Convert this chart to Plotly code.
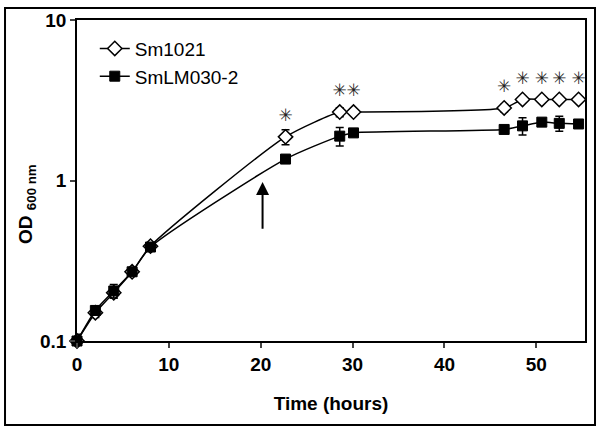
import plotly.graph_objects as go
import math

# ---- data ----
time_h = [0, 2, 4, 6, 8, 22.7, 28.6, 30.1, 46.5, 48.5, 50.6, 52.5, 54.6]
sm1021 = [0.10, 0.15, 0.20, 0.27, 0.39, 1.87, 2.67, 2.67, 2.83, 3.20, 3.20, 3.20, 3.20]
sm1021_err = [0.008, 0.01, 0.015, 0.015, 0.02, 0.2, 0.17, 0.05, 0.15, 0.05, 0.05, 0.05, 0.05]
smlm030 = [0.10, 0.155, 0.205, 0.27, 0.385, 1.36, 1.89, 1.98, 2.08, 2.19, 2.31, 2.27, 2.25]
smlm030_err = [0.01, 0.01, 0.02, 0.015, 0.02, 0.05, 0.25, 0.05, 0.05, 0.27, 0.08, 0.24, 0.1]
star_flags = [0, 0, 0, 0, 0, 1, 1, 1, 1, 1, 1, 1, 1]
series_names = ["Sm1021", "SmLM030-2"]
x_ticks = [0, 10, 20, 30, 40, 50]
y_ticks = [0.1, 1, 10]
y_ticklabels = ["0.1", "1", "10"]
arrow_x = 20.2
arrow_tip = 0.98
arrow_tail = 0.49

FONT = "Liberation Sans, Arial, sans-serif"

fig = go.Figure()
fig.add_trace(go.Scatter(
    x=time_h, y=sm1021, name=series_names[0], mode="lines+markers",
    line=dict(color="black", width=1.5, shape="spline", smoothing=0.6),
    marker=dict(symbol="diamond", size=11, color="white", line=dict(color="black", width=1.5)),
    error_y=dict(type="data", array=sm1021_err, color="black", thickness=1.5, width=4),
    cliponaxis=False,
))
fig.add_trace(go.Scatter(
    x=time_h, y=smlm030, name=series_names[1], mode="lines+markers",
    line=dict(color="black", width=1.5, shape="spline", smoothing=0.6),
    marker=dict(symbol="square", size=10, color="black", line=dict(color="black", width=1)),
    error_y=dict(type="data", array=smlm030_err, color="black", thickness=1.5, width=4),
    cliponaxis=False,
))

# asterisks above significant points
star_x = [t for t, f in zip(time_h, star_flags) if f]
star_y = [v * 1.33 for v, f in zip(sm1021, star_flags) if f]
fig.add_trace(go.Scatter(
    x=star_x, y=star_y, mode="text", text=["\u2733"] * len(star_x),
    textfont=dict(family="DejaVu Sans", size=17, color="#222"),
    textposition="middle center", showlegend=False, cliponaxis=False, hoverinfo="skip",
))

fig.add_annotation(
    x=arrow_x, y=math.log10(arrow_tip), ax=arrow_x, ay=math.log10(arrow_tail),
    xref="x", yref="y", axref="x", ayref="y", text="", showarrow=True,
    arrowhead=2, arrowsize=1.3, arrowwidth=2, arrowcolor="black",
)

# y-axis title
fig.add_annotation(
    x=-0.0984, y=0.427, xref="paper", yref="paper", xanchor="center", yanchor="middle",
    text="<b>OD <sub>600 nm</sub></b>", textangle=-90, showarrow=False,
    font=dict(family=FONT, size=19, color="black"),
)

# outer border
fig.add_shape(type="rect", xref="paper", yref="paper",
              x0=-0.1417, x1=1.0197, y0=-0.2617, y1=1.037,
              line=dict(color="black", width=2))

fig.update_layout(
    width=600, height=434,
    margin=dict(l=77, r=15, t=20, b=93),
    paper_bgcolor="white", plot_bgcolor="white",
    font=dict(family=FONT, size=19, color="black"),
    showlegend=True,
    legend=dict(x=0.035, y=0.97, xanchor="left", yanchor="top",
                bgcolor="rgba(0,0,0,0)", font=dict(size=19), tracegroupgap=0),
)
fig.update_xaxes(
    range=[0, 55.3], tickvals=x_ticks, ticks="outside", ticklen=5, tickwidth=1.5,
    showline=True, linecolor="black", linewidth=1.5, mirror=True, showgrid=False,
    zeroline=False, tickfont=dict(size=19, family=FONT, weight="bold"), automargin=False,
    title=dict(text="<b>Time (hours)</b>", font=dict(size=19), standoff=23),
)
fig.update_yaxes(
    type="log", range=[-1, 1], tickvals=y_ticks, ticktext=y_ticklabels,
    ticks="outside", ticklen=5, tickwidth=1.5, automargin=False,
    showline=True, linecolor="black", linewidth=1.5, mirror=True, showgrid=False,
    zeroline=False, tickfont=dict(size=19, family=FONT, weight="bold"),
)

fig.write_html("out.html", config={"displayModeBar": False},
               post_script="document.body.style.margin='0';")
